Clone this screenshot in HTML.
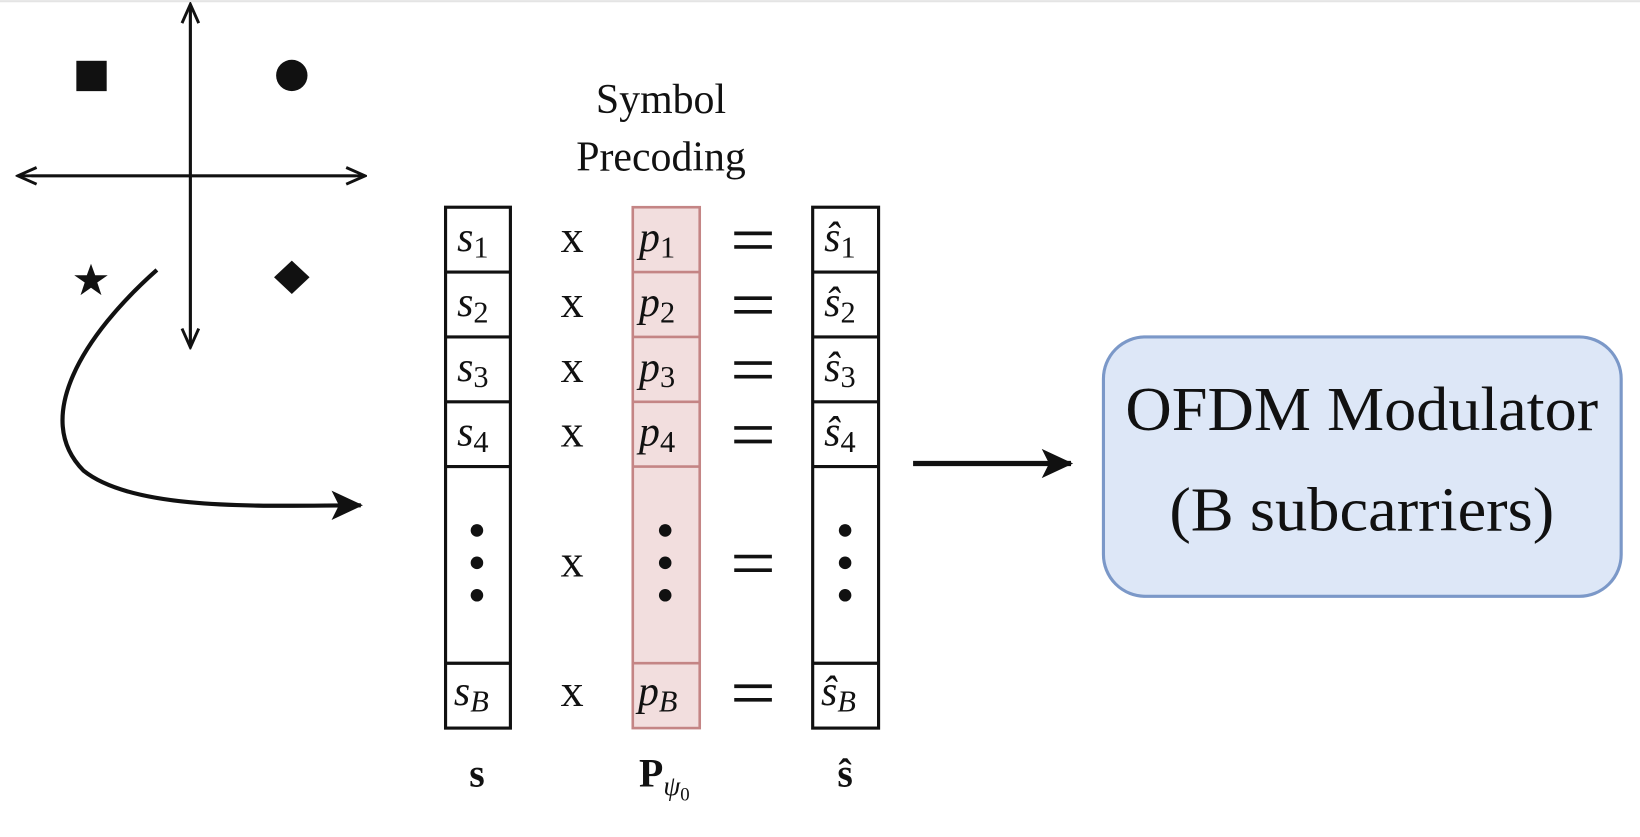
<!DOCTYPE html>
<html><head><meta charset="utf-8"><style>
html,body{margin:0;padding:0;background:#fff;}
svg{display:block;}
text{font-family:"Liberation Serif",serif;fill:#111;}
</style></head><body>
<svg width="1640" height="837" viewBox="0 0 1568 800" xmlns="http://www.w3.org/2000/svg">
<defs>
<marker id="ch" viewBox="0 0 24 24" refX="22" refY="12" markerWidth="24" markerHeight="24" markerUnits="userSpaceOnUse" orient="auto">
<path d="M4,4 L22,12 L4,20" fill="none" stroke="#111" stroke-width="2.8"/></marker>
<marker id="fa" viewBox="0 0 34 34" refX="30" refY="17" markerWidth="34" markerHeight="34" markerUnits="userSpaceOnUse" orient="auto">
<path d="M2,3 L32,17 L2,31 L9,17 Z" fill="#111"/></marker>
</defs>
<line x1="0" y1="1" x2="1568" y2="1" stroke="#e4e4e4" stroke-width="2"/>
<line x1="182" y1="330" x2="182" y2="4" stroke="#111" stroke-width="2.8" marker-end="url(#ch)"/>
<line x1="182" y1="10" x2="182" y2="332" stroke="#111" stroke-width="2.8" marker-end="url(#ch)"/>
<line x1="30" y1="168" x2="349" y2="168" stroke="#111" stroke-width="2.8" marker-end="url(#ch)"/>
<line x1="340" y1="168" x2="17" y2="168" stroke="#111" stroke-width="2.8" marker-end="url(#ch)"/>
<rect x="73" y="58" width="29" height="29" fill="#111"/>
<circle cx="279" cy="72" r="15" fill="#111"/>
<polygon points="87,252 91,263 103,263 93,270 97,282 87,275 77,282 81,270 71,263 83,263" fill="#111"/>
<polygon points="279,249 296,265 279,281 262,265" fill="#111"/>
<path d="M150,258 C80,320 30,400 80,450 C130,490 260,483 345,483" fill="none" stroke="#111" stroke-width="4" marker-end="url(#fa)"/>
<text x="632" y="108" font-size="40" text-anchor="middle">Symbol</text>
<text x="632" y="163" font-size="40" text-anchor="middle">Precoding</text>
<g stroke="#111" stroke-width="3" fill="none">
<rect x="426" y="198" width="62" height="498"/>
<line x1="426" y1="260" x2="488" y2="260"/><line x1="426" y1="322" x2="488" y2="322"/>
<line x1="426" y1="384" x2="488" y2="384"/><line x1="426" y1="446" x2="488" y2="446"/>
<line x1="426" y1="634" x2="488" y2="634"/>
<rect x="777" y="198" width="63" height="498"/>
<line x1="777" y1="260" x2="840" y2="260"/><line x1="777" y1="322" x2="840" y2="322"/>
<line x1="777" y1="384" x2="840" y2="384"/><line x1="777" y1="446" x2="840" y2="446"/>
<line x1="777" y1="634" x2="840" y2="634"/>
</g>
<g stroke="#c48585" stroke-width="2.5" fill="#f2dede">
<rect x="605" y="198" width="64" height="498"/>
<line x1="605" y1="260" x2="669" y2="260"/><line x1="605" y1="322" x2="669" y2="322"/>
<line x1="605" y1="384" x2="669" y2="384"/><line x1="605" y1="446" x2="669" y2="446"/>
<line x1="605" y1="634" x2="669" y2="634"/>
</g>
<g font-size="40">
<g font-style="italic">
<text x="437" y="240">s<tspan font-style="normal" font-size="29" dy="6">1</tspan></text>
<text x="437" y="302">s<tspan font-style="normal" font-size="29" dy="6">2</tspan></text>
<text x="437" y="364">s<tspan font-style="normal" font-size="29" dy="6">3</tspan></text>
<text x="437" y="426">s<tspan font-style="normal" font-size="29" dy="6">4</tspan></text>
<text x="434" y="674">s<tspan font-size="29" dy="6">B</tspan></text>
<text x="611" y="240">p<tspan font-style="normal" font-size="29" dy="6">1</tspan></text>
<text x="611" y="302">p<tspan font-style="normal" font-size="29" dy="6">2</tspan></text>
<text x="611" y="364">p<tspan font-style="normal" font-size="29" dy="6">3</tspan></text>
<text x="611" y="426">p<tspan font-style="normal" font-size="29" dy="6">4</tspan></text>
<text x="610" y="674">p<tspan font-size="29" dy="6">B</tspan></text>
<text x="788" y="240">ŝ<tspan font-style="normal" font-size="29" dy="6">1</tspan></text>
<text x="788" y="302">ŝ<tspan font-style="normal" font-size="29" dy="6">2</tspan></text>
<text x="788" y="364">ŝ<tspan font-style="normal" font-size="29" dy="6">3</tspan></text>
<text x="788" y="426">ŝ<tspan font-style="normal" font-size="29" dy="6">4</tspan></text>
<text x="785" y="674">ŝ<tspan font-size="29" dy="6">B</tspan></text>
</g>
<g text-anchor="middle" font-size="44">
<text x="547" y="241">x</text><text x="547" y="303">x</text><text x="547" y="365">x</text>
<text x="547" y="427">x</text><text x="547" y="551">x</text><text x="547" y="675">x</text>
</g>
<g stroke="#111" stroke-width="3.5">
<line x1="702" y1="223" x2="738" y2="223"/><line x1="702" y1="236" x2="738" y2="236"/>
<line x1="702" y1="285" x2="738" y2="285"/><line x1="702" y1="298" x2="738" y2="298"/>
<line x1="702" y1="347" x2="738" y2="347"/><line x1="702" y1="360" x2="738" y2="360"/>
<line x1="702" y1="409" x2="738" y2="409"/><line x1="702" y1="422" x2="738" y2="422"/>
<line x1="702" y1="532" x2="738" y2="532"/><line x1="702" y1="545" x2="738" y2="545"/>
<line x1="702" y1="656" x2="738" y2="656"/><line x1="702" y1="669" x2="738" y2="669"/>
</g>
</g>
<g fill="#111">
<circle cx="456" cy="507" r="6"/><circle cx="456" cy="538" r="6"/><circle cx="456" cy="569" r="6"/>
<circle cx="636" cy="507" r="6"/><circle cx="636" cy="538" r="6"/><circle cx="636" cy="569" r="6"/>
<circle cx="808" cy="507" r="6"/><circle cx="808" cy="538" r="6"/><circle cx="808" cy="569" r="6"/>
</g>
<text x="456" y="752" font-size="38" font-weight="bold" text-anchor="middle">s</text>
<text x="611" y="752" font-size="38" font-weight="bold">P<tspan font-weight="normal" font-style="italic" font-size="26" dy="8">ψ</tspan><tspan font-weight="normal" font-size="18" dy="5">0</tspan></text>
<text x="808" y="752" font-size="38" font-weight="bold" text-anchor="middle">ŝ</text>
<line x1="873" y1="443" x2="1024" y2="443" stroke="#111" stroke-width="5" marker-end="url(#fa)"/>
<rect x="1055" y="322" width="495" height="248" rx="40" fill="#dde7f7" stroke="#7b98c8" stroke-width="3"/>
<text x="1302" y="411" font-size="60" text-anchor="middle" textLength="452" lengthAdjust="spacingAndGlyphs">OFDM Modulator</text>
<text x="1302" y="507" font-size="60" text-anchor="middle" textLength="368" lengthAdjust="spacingAndGlyphs">(B subcarriers)</text>
</svg>
</body></html>
